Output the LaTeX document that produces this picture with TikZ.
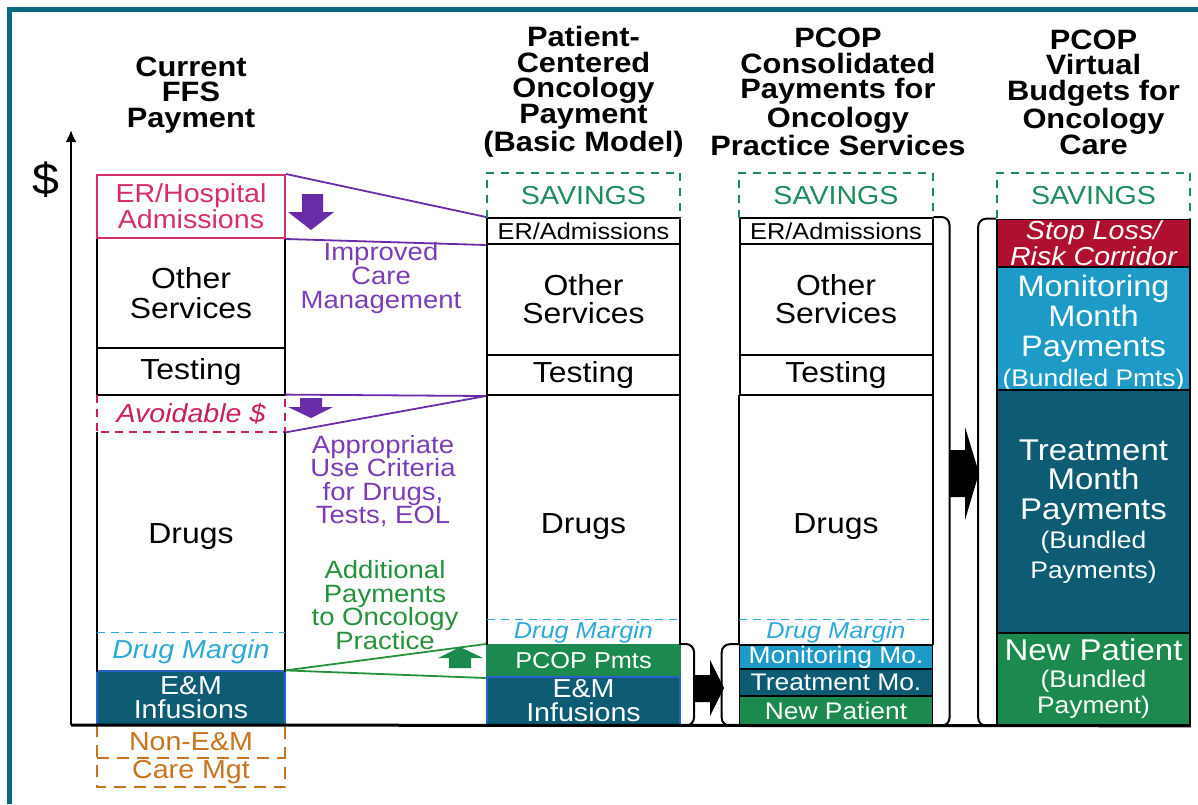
\documentclass[tikz,border=0pt]{standalone}
\usepackage{fontspec}
\setmainfont{Liberation Sans}[FakeStretch=1.1]
\usetikzlibrary{arrows.meta}

\definecolor{marco}{HTML}{0C6A80}
\definecolor{tealosc}{HTML}{0D5C74}
\definecolor{azulcl}{HTML}{1D9BC6}
\definecolor{verdeosc}{HTML}{1C8A4E}
\definecolor{rojoosc}{HTML}{B01030}
\definecolor{rosa}{HTML}{D62D6E}
\definecolor{carmesi}{HTML}{C8205A}
\definecolor{morado}{HTML}{7A3DB5}
\definecolor{moradoosc}{HTML}{6A2BA8}
\definecolor{verdetxt}{HTML}{25913A}
\definecolor{verdeah}{HTML}{1E8B5E}
\definecolor{naranja}{HTML}{C8741E}
\definecolor{cian}{HTML}{2DA8D8}
\definecolor{azulborde}{HTML}{2A5FD0}

\newcommand{\tam}[2]{\fontsize{#1}{#2}\selectfont}

\tikzset{
  caja/.style={draw, line width=1pt, inner sep=0pt, align=center, minimum width=96.5pt},
  hueco/.style={inner sep=0pt, align=center, minimum width=96.5pt},
  titulo/.style={align=center, inner sep=0pt, font=\bfseries\tam{14}{12.75}},
  linea/.style={line width=1pt},
  ahorro/.style={draw=verdeah, line width=1pt, dash pattern=on 4pt off 3.5pt},
  margen/.style={draw=cian, line width=0.6pt, dash pattern=on 4pt off 3pt},
  unido/.style={draw=moradoosc, line width=0.9pt},
  corchete/.style={line width=1pt, rounded corners=4pt},
}

\begin{document}
\begin{tikzpicture}[x=0.5pt, y=-0.5pt]
  \useasboundingbox (0,0) rectangle (1198,804);

  % Marco
  \draw[marco, line width=2.5pt] (9.5,804) -- (9.5,9.5) -- (1198,9.5);

  % Titulos
  \node[titulo] (h1) at (191,95) {Current\\FFS\\Payment};
  \node[titulo] (h2) at (583.5,92) {Patient-\\Centered\\Oncology\\Payment\\(Basic Model)};
  \node[titulo] (h3) at (838,92) {PCOP\\Consolidated\\Payments for\\Oncology\\Practice Services};
  \node[titulo] (h4) at (1093.5,92) {PCOP\\Virtual\\Budgets for\\Oncology\\Care};

  % Eje
  \node[font=\tam{22}{22}] (dolar) at (46,180) {\$};
  \coordinate (O) at (71,725);
  \coordinate (T) at (71,130);

  % Columna 1
  \node[caja, minimum width=94pt, minimum height=55pt, font=\tam{14.5}{15}] (os1) at (191,293) {Other\\Services};
  \node[caja, minimum width=94pt, minimum height=23.5pt, font=\tam{14.5}{15}] (te1) at (191,371.5) {Testing};
  \node[caja, draw=rosa, text=rosa, minimum width=94pt, minimum height=31.5pt, font=\tam{13}{11.5}] (er1) at (191,206.5) {ER/Hospital\\Admissions};
  \node[hueco, minimum width=94pt, minimum height=18.5pt, text=carmesi, font=\itshape\tam{13}{13}] (av1) at (191,413.5) {Avoidable \$};
  \node[hueco, minimum width=94pt, minimum height=100pt] (dr1) at (191,532) {};
  \node[font=\tam{14.5}{15}] (dt1) at (191,537) {Drugs};
  \node[hueco, minimum width=94pt, minimum height=19.5pt, text=cian, font=\itshape\tam{13}{13}] (dm1) at (191,652) {Drug Margin};
  \node[caja, fill=tealosc, draw=azulborde, line width=0.6pt, text=white, minimum width=94pt, minimum height=27pt, font=\tam{13}{12}] (em1) at (191,698) {E\&M\\Infusions};
  \node[hueco, minimum width=94pt, minimum height=16.5pt, text=naranja, font=\tam{13}{13}] (ne1) at (191,741.5) {Non-E\&M};
  \node[hueco, minimum width=94pt, minimum height=14.5pt, text=naranja, font=\tam{13}{13}] (cm1) at (191,772.5) {Care Mgt};
  \draw[carmesi, line width=1pt, dash pattern=on 4pt off 3pt] (av1.north west) |- (av1.south east) -- (av1.north east);
  \draw[linea] (dr1.north west) -- (dm1.south west) (dr1.north east) -- (dm1.south east);
  \draw[margen] (dm1.north west) -- (dm1.north east);
  \draw[naranja, line width=1pt, dash pattern=on 6pt off 4pt] (ne1.north west) rectangle (cm1.south east);
  \draw[naranja, line width=1pt, dash pattern=on 6pt off 4pt] (ne1.south west) -- (ne1.south east);

  % Columna 2
  \node[hueco, minimum height=22.5pt, text=verdeah, font=\tam{13}{13}] (sv2) at (583.5,195.5) {SAVINGS};
  \node[caja, minimum height=13pt, font=\tam{11.5}{11.5}] (er2) at (583.5,231) {ER/Admissions};
  \node[caja, minimum height=55.5pt, font=\tam{14.5}{14}] (os2) at (583.5,299.5) {Other\\Services};
  \node[caja, minimum height=20pt, font=\tam{14.5}{14}] (te2) at (583.5,375) {Testing};
  \node[hueco, minimum height=112.5pt] (dr2) at (583.5,507.5) {};
  \node[font=\tam{14.5}{14}] (dt2) at (583.5,527) {Drugs};
  \node[hueco, minimum height=12.5pt, text=cian, font=\itshape\tam{11.5}{11.5}] (dm2) at (583.5,632.5) {Drug Margin};
  \node[caja, fill=verdeosc, draw=verdeosc, text=white, minimum height=16pt, font=\tam{11.5}{11.5}] (pc2) at (583.5,661) {PCOP Pmts};
  \node[caja, fill=tealosc, draw=azulborde, line width=0.6pt, text=white, minimum height=24pt, font=\tam{13}{12}] (em2) at (583.5,701) {E\&M\\Infusions};
  \draw[ahorro] (sv2.south west) |- (sv2.north east) -- (sv2.south east);
  \draw[linea] (dr2.north west) -- (dm2.south west) (dr2.north east) -- (dm2.south east);
  \draw[margen] (dm2.north west) -- (dm2.north east);

  % Columna 3
  \node[hueco, minimum height=22.5pt, text=verdeah, font=\tam{13}{13}] (sv3) at (836,195.5) {SAVINGS};
  \node[caja, minimum height=13pt, font=\tam{11.5}{11.5}] (er3) at (836,231) {ER/Admissions};
  \node[caja, minimum height=55.5pt, font=\tam{14.5}{14}] (os3) at (836,299.5) {Other\\Services};
  \node[caja, minimum height=20pt, font=\tam{14.5}{14}] (te3) at (836,375) {Testing};
  \node[hueco, minimum height=112.5pt] (dr3) at (836,507.5) {};
  \node[font=\tam{14.5}{14}] (dt3) at (836,527) {Drugs};
  \node[hueco, minimum height=12.5pt, text=cian, font=\itshape\tam{11.5}{11.5}] (dm3) at (836,632.5) {Drug Margin};
  \node[caja, fill=azulcl, line width=0.8pt, text=white, minimum height=12pt, font=\tam{12}{12}] (mo3) at (836,657) {Monitoring Mo.};
  \node[caja, fill=tealosc, line width=0.8pt, text=white, minimum height=13.5pt, font=\tam{12}{12}] (tr3) at (836,682.5) {Treatment Mo.};
  \node[caja, fill=verdeosc, line width=0.8pt, text=white, minimum height=14.5pt, font=\tam{12}{12}] (np3) at (836,710.5) {New Patient};
  \draw[ahorro] (sv3.south west) |- (sv3.north east) -- (sv3.south east);
  \draw[linea] (dr3.north west) -- (dm3.south west) (dr3.north east) -- (dm3.south east);
  \draw[margen] (dm3.north west) -- (dm3.north east);

  % Columna 4
  \node[hueco, minimum height=22.5pt, text=verdeah, font=\tam{13}{13}] (sv4) at (1093.5,195.5) {SAVINGS};
  \node[caja, fill=rojoosc, line width=0.8pt, text=white, minimum height=23.5pt, font=\itshape\tam{13}{11}] (sl4) at (1093.5,243) {Stop Loss/\\Risk Corridor};
  \node[caja, fill=azulcl, line width=0.8pt, minimum height=61.5pt] (mo4) at (1093.5,328.5) {};
  \node[align=center, inner sep=0pt, text=white, font=\tam{14.8}{15}] (mt4) at (1093.5,333) {Monitoring\\Month\\Payments\\{\tam{12}{12}(Bundled Pmts)}};
  \node[caja, fill=tealosc, line width=0.8pt, text=white, minimum height=121.5pt, font=\tam{15}{14.8}] (tr4) at (1093.5,511.5) {Treatment\\Month\\Payments\\{\tam{12}{12}(Bundled}\\{\tam{12}{12}Payments)}};
  \node[caja, fill=verdeosc, line width=0.8pt, text=white, minimum height=46pt, font=\tam{15}{13.3}] (np4) at (1093.5,679) {New Patient\\{\tam{12}{12}(Bundled}\\{\tam{12}{12}Payment)}};
  \draw[ahorro] (sv4.south west) |- (sv4.north east) -- (sv4.south east);

  % Textos del centro
  \node[align=center, inner sep=0pt, text=morado, font=\tam{12.5}{11.8}] (icm) at (381,278) {Improved\\Care\\Management};
  \node[align=center, inner sep=0pt, text=morado, font=\tam{12.5}{11.8}] (auc) at (383,481) {Appropriate\\Use Criteria\\for Drugs,\\Tests, EOL};
  \node[align=center, inner sep=0pt, text=verdetxt, font=\tam{12.5}{11.8}] (apo) at (385,605) {Additional\\Payments\\to Oncology\\Practice};

  % Lineas
  \draw[unido] (er1.north east) -- (er2.north west);
  \draw[unido] (er1.south east) -- (er2.south west);
  \draw[unido] (av1.north east) -- (te2.south west);
  \draw[unido] (av1.south east) -- (te2.south west);
  \draw[verdetxt, line width=0.9pt] (em1.north east) -- (pc2.north west);
  \draw[verdetxt, line width=0.9pt] (em1.north east) -- (pc2.south west);

  % Flechas de bloque
  \fill[moradoosc] (302,194) -- (323,194) -- (323,212) -- (334,212) -- (311,230) -- (288,212) -- (302,212) -- cycle;
  \fill[moradoosc] (300,398) -- (322,398) -- (322,407) -- (333,407) -- (311,418) -- (288,407) -- (300,407) -- cycle;
  \fill[verdeosc] (449,668) -- (471,668) -- (471,658) -- (483,658) -- (460,647) -- (438,658) -- (449,658) -- cycle;

  % Corchetes
  \draw[corchete] (pc2.north east) -- ++(13,0) |- (em2.south east);
  \draw[corchete] (mo3.north west) -- ++(-17,0) |- (np3.south west);
  \draw[corchete] (er3.north east) -- ++(16,0) |- (np3.south east);
  \draw[corchete] (sl4.north west) -- ++(-18,0) |- (np4.south west);
  \fill (695,675) -- (710,675) -- (710,660) -- (724,688) -- (710,716) -- (710,702) -- (695,702) -- cycle;
  \fill (950,450) -- (965,450) -- (965,427) -- (979,473) -- (965,520) -- (965,497) -- (950,497) -- cycle;

  % Ejes
  \draw[line width=1.2pt, -{Latex[length=6pt, width=5.5pt]}] (O) -- (T);
  \draw[line width=1.5pt] (O) -- (np4.south east);
\end{tikzpicture}
\end{document}
